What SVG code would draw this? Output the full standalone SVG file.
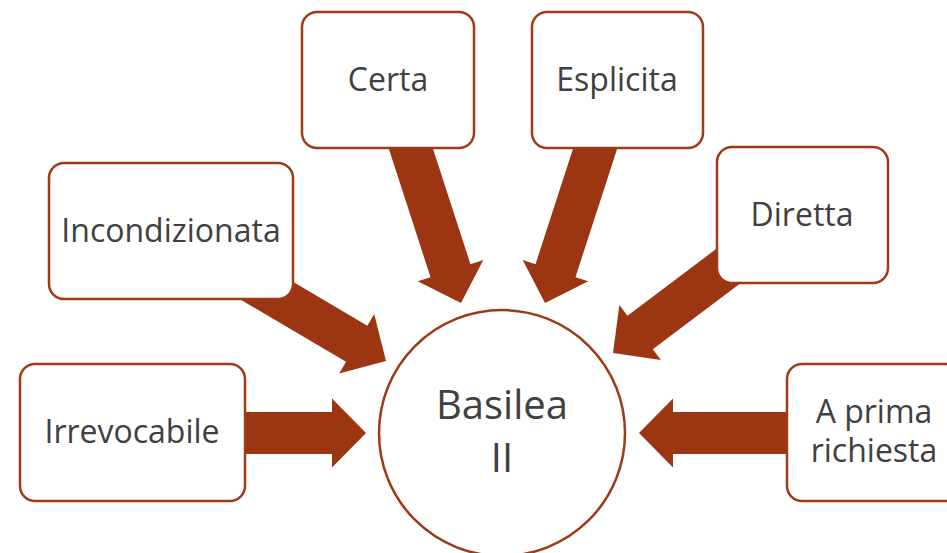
<svg xmlns="http://www.w3.org/2000/svg" width="947" height="553" viewBox="0 0 947 553">
  <defs>
    <style>
      .box { fill: #ffffff; stroke: #9E3A16; stroke-width: 2.5; }
      .arrow { fill: #9C3612; }
      .lbl { font-family: "Open Sans", "Noto Sans", sans-serif; font-size: 32px; fill: #404040; text-anchor: middle; }
      .big { font-size: 40px; }
    </style>
    <path id="arw" d="M -170,-21 L -34,-21 L -34,-34.5 L 0,0 L -34,34.5 L -34,21 L -170,21 Z"/>
  </defs>
  <rect width="947" height="553" fill="#ffffff"/>
  <g id="connectors">
    <use href="#arw" class="arrow" transform="translate(366,433)"/>
    <use href="#arw" class="arrow" transform="translate(639,433) rotate(180)"/>
    <use href="#arw" class="arrow" transform="translate(386,361) rotate(30.5)"/>
    <use href="#arw" class="arrow" transform="translate(461,303) rotate(72)"/>
    <use href="#arw" class="arrow" transform="translate(545,303) rotate(108)"/>
    <use href="#arw" class="arrow" transform="translate(613,353) rotate(143)"/>
  </g>
  <g id="node-certa">
    <rect class="box" x="302" y="12" width="172" height="136" rx="15"/>
    <text class="lbl" x="388" y="91">Certa</text>
  </g>
  <g id="node-esplicita">
    <rect class="box" x="532" y="12" width="171" height="136" rx="15"/>
    <text class="lbl" x="617" y="91">Esplicita</text>
  </g>
  <g id="node-incondizionata">
    <rect class="box" x="49" y="163" width="244" height="136" rx="15"/>
    <text class="lbl" x="171" y="242">Incondizionata</text>
  </g>
  <g id="node-diretta">
    <rect class="box" x="717" y="147" width="171" height="136" rx="15"/>
    <text class="lbl" x="802" y="226">Diretta</text>
  </g>
  <g id="node-irrevocabile">
    <rect class="box" x="20" y="364" width="225" height="137" rx="15"/>
    <text class="lbl" x="132" y="443">Irrevocabile</text>
  </g>
  <g id="node-aprima">
    <rect class="box" x="787" y="364" width="173" height="137" rx="15"/>
    <text class="lbl" x="874" y="423">A prima</text>
    <text class="lbl" x="874" y="462">richiesta</text>
  </g>
  <g id="node-basilea">
    <circle class="box" cx="502" cy="433" r="123"/>
    <text class="lbl big" x="502" y="419">Basilea</text>
    <text class="lbl big" x="502" y="472">II</text>
  </g>
</svg>
